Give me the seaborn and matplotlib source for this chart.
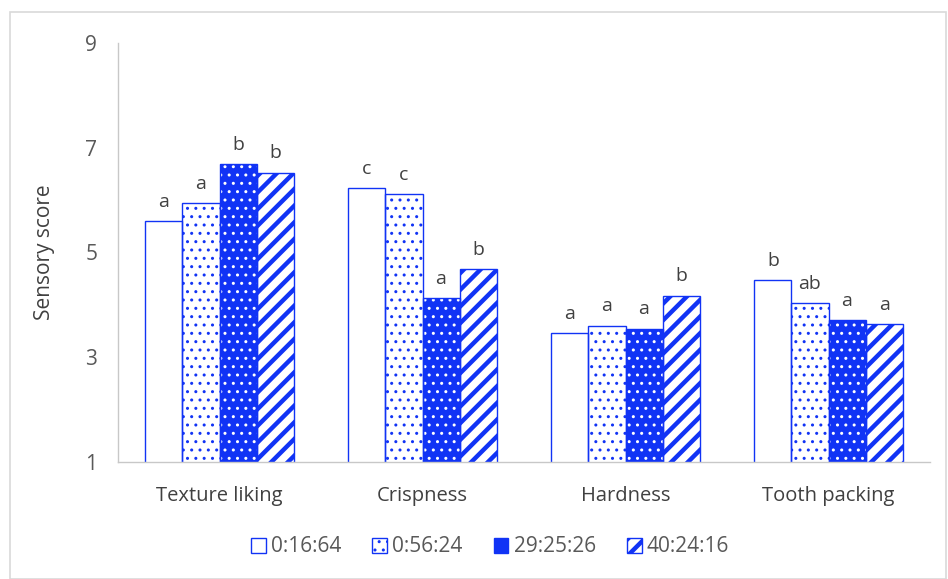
import matplotlib
matplotlib.use("Agg")
import matplotlib.pyplot as plt
import seaborn as sns
import pandas as pd
import numpy as np
from matplotlib.patches import Rectangle, Patch

categories = ["Texture liking", "Crispness", "Hardness", "Tooth packing"]
series = ["0:16:64", "0:56:24", "29:25:26", "40:24:16"]
values = {
    "0:16:64": [5.60, 6.23, 3.46, 4.47],
    "0:56:24": [5.94, 6.11, 3.60, 4.03],
    "29:25:26": [6.69, 4.13, 3.54, 3.71],
    "40:24:16": [6.52, 4.68, 4.17, 3.63],
}
letters = {
    "0:16:64": ["a", "c", "a", "b"],
    "0:56:24": ["a", "c", "a", "ab"],
    "29:25:26": ["b", "a", "a", "a"],
    "40:24:16": ["b", "b", "b", "a"],
}
yticks = [1, 3, 5, 7, 9]

BLUE = "#1133f5"
GRAY = "#595959"

rows = []
for s in series:
    for c, v in zip(categories, values[s]):
        rows.append({"cat": c, "series": s, "score": v})
df = pd.DataFrame(rows)

sns.set_style("white")
plt.rcParams["font.family"] = ["Open Sans", "DejaVu Sans"]
plt.rcParams["hatch.linewidth"] = 1.0

fig = plt.figure(figsize=(9.48, 5.79), dpi=100)
ax = fig.add_axes([118 / 948, 1 - 462 / 579, 812 / 948, (462 - 43) / 579])

sns.barplot(data=df, x="cat", y="score", hue="series", order=categories,
            hue_order=series, width=0.73, ax=ax, legend=False,
            palette=["white"] * 4, edgecolor=BLUE, linewidth=1.0)

ax.set_ylim(1, 9)

styles = {
    "0:16:64": dict(face="white", hatch="", hcol=BLUE, hlw=1.0),
    "0:56:24": dict(face="white", hatch="..", hcol=BLUE, hlw=1.0),
    "29:25:26": dict(face=BLUE, hatch="..", hcol="white", hlw=1.0),
    "40:24:16": dict(face="white", hatch="//", hcol=BLUE, hlw=3.2),
}


def set_hlw(p, lw):
    if hasattr(p, "set_hatch_linewidth"):
        p.set_hatch_linewidth(lw)
    else:
        p._hatch_linewidth = lw


containers = ax.containers
for s, cont in zip(series, containers):
    st = styles[s]
    for bar, lab in zip(cont, letters[s]):
        bar.set_facecolor(st["face"])
        bar.set_hatch(st["hatch"])
        bar.set_edgecolor(st["hcol"])
        bar.set_linewidth(0)
        set_hlw(bar, st["hlw"])
        x, w, h = bar.get_x(), bar.get_width(), bar.get_height()
        ax.add_patch(Rectangle((x, 0), w, h, fill=False, edgecolor=BLUE,
                               linewidth=1.0, zorder=bar.get_zorder() + 0.1))
        ax.text(x + w / 2, h + 0.2, lab, ha="center", va="bottom",
                fontsize=14, color="#404040")

ax.set_yticks(yticks)
ax.set_yticklabels([str(t) for t in yticks], fontsize=15, color=GRAY)
ax.tick_params(axis="y", length=0, pad=15)
ax.tick_params(axis="x", length=0, pad=17, labelsize=14.5, labelcolor="#404040")
ax.set_xlabel("")
ax.set_ylabel("Sensory score", fontsize=15, color="#404040", labelpad=22)
ax.set_xlim(-0.5, 3.5)

for side in ["top", "right"]:
    ax.spines[side].set_visible(False)
for side in ["left", "bottom"]:
    ax.spines[side].set_color("#c8c8c8")
    ax.spines[side].set_linewidth(1.0)

handles = []
for s in series:
    st = styles[s]
    hp = Patch(facecolor=st["face"], hatch=st["hatch"], edgecolor=BLUE,
               linewidth=1.0, label=s)
    handles.append(hp)
leg = fig.legend(handles=handles, loc="center", bbox_to_anchor=(490 / 948, 1 - 547 / 579),
                 ncol=4, frameon=False, fontsize=15, handlelength=0.7, handleheight=0.7,
                 handletextpad=0.25, columnspacing=1.5)
for t in leg.get_texts():
    t.set_color(GRAY)
for hpatch, s in zip(leg.get_patches(), series):
    set_hlw(hpatch, styles[s]["hlw"])

fig.add_artist(Rectangle((10 / 948, 0), 936 / 948, 1 - 12 / 579,
                         transform=fig.transFigure, fill=False,
                         edgecolor="#d9d9d9", linewidth=1.2))

fig.savefig("out.png", dpi=100)
